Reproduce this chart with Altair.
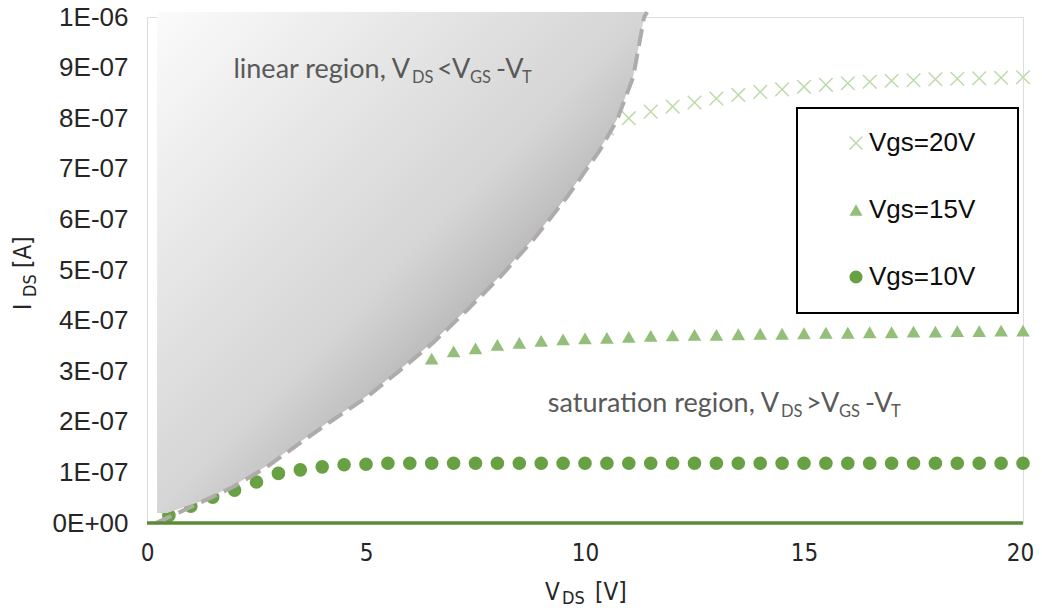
import altair as alt
import pandas as pd

# ---------------- data (currents in units of 1e-7 A) ----------------
series_names = ["Vgs=20V", "Vgs=15V", "Vgs=10V"]

v10 = [0.5, 1, 1.5, 2, 2.5, 3, 3.5, 4, 4.5, 5, 5.5, 6, 6.5, 7, 7.5, 8, 8.5, 9, 9.5, 10,
       10.5, 11, 11.5, 12, 12.5, 13, 13.5, 14, 14.5, 15, 15.5, 16, 16.5, 17, 17.5, 18,
       18.5, 19, 19.5, 20]
i10 = [0.15, 0.33, 0.51, 0.65, 0.81, 0.98, 1.05, 1.11, 1.15, 1.16, 1.18, 1.18, 1.18, 1.18,
       1.18, 1.18, 1.18, 1.18, 1.18, 1.18, 1.18, 1.18, 1.18, 1.18, 1.18, 1.18, 1.18, 1.18,
       1.18, 1.18, 1.18, 1.18, 1.18, 1.18, 1.18, 1.18, 1.18, 1.18, 1.18, 1.18]

v15 = [6.5, 7, 7.5, 8, 8.5, 9, 9.5, 10, 10.5, 11, 11.5, 12, 12.5, 13, 13.5, 14, 14.5, 15,
       15.5, 16, 16.5, 17, 17.5, 18, 18.5, 19, 19.5, 20]
i15 = [3.25, 3.39, 3.45, 3.52, 3.56, 3.60, 3.63, 3.65, 3.66, 3.68, 3.70, 3.71, 3.72, 3.72,
       3.73, 3.74, 3.74, 3.75, 3.76, 3.76, 3.77, 3.77, 3.78, 3.78, 3.79, 3.79, 3.80, 3.80]

v20 = [10.5, 11, 11.5, 12, 12.5, 13, 13.5, 14, 14.5, 15, 15.5, 16, 16.5, 17, 17.5, 18,
       18.5, 19, 19.5, 20]
i20 = [7.80, 8.00, 8.13, 8.23, 8.31, 8.39, 8.46, 8.52, 8.57, 8.62, 8.66, 8.69, 8.72, 8.74,
       8.75, 8.77, 8.78, 8.79, 8.80, 8.81]

# zero-current series along the V axis
v0 = [0, 20]
i0 = [0, 0]

# boundary V_DS = V_GS - V_T (dashed curve)
vb = [0.2, 0.46, 1.21, 1.96, 2.74, 3.49, 4.25, 5.02, 5.78, 6.53, 7.31, 8.06, 8.81, 9.59,
      10.34, 10.73, 11.1, 11.35, 11.42]
ib = [0.0, 0.10, 0.40, 0.71, 1.11, 1.58, 2.04, 2.49, 3.02, 3.56, 4.21, 4.86, 5.59, 6.44,
      7.37, 7.96, 8.81, 10.0, 10.1]

# linear-region shading: left edge and boundary
shade_left = 0.23
shade_v = [0.46, 1.21, 1.96, 2.74, 3.49, 4.25, 5.02, 5.78, 6.53, 7.31, 8.06, 8.81, 9.59,
           10.34, 10.73, 11.1, 11.35, 11.42]
shade_i = [0.2, 0.42, 0.73, 1.13, 1.60, 2.06, 2.51, 3.04, 3.58, 4.23, 4.88, 5.61, 6.46,
           7.39, 7.98, 8.83, 10.0, 10.1]

y_ticks = [0, 1, 2, 3, 4, 5, 6, 7, 8, 9, 10]
x_ticks = [0, 5, 10, 15, 20]

E = 1e-7

# ---------------- tables ----------------
pts = pd.concat([
    pd.DataFrame({"V": v20, "I": [v * E for v in i20], "series": "Vgs=20V"}),
    pd.DataFrame({"V": v15, "I": [v * E for v in i15], "series": "Vgs=15V"}),
    pd.DataFrame({"V": v10, "I": [v * E for v in i10], "series": "Vgs=10V"}),
], ignore_index=True)
zero_df = pd.DataFrame({"V": v0, "I": i0})
bound_df = pd.DataFrame({"V": vb, "I": [v * E for v in ib]})
shade_df = pd.DataFrame({"V": shade_v, "L": shade_left, "I": [v * E for v in shade_i]})

NARROW = "Liberation Sans Narrow, DejaVu Sans Condensed, Liberation Sans, sans-serif"

W, H = 876, 506
xs = alt.Scale(domain=[0, 20], nice=False, zero=False)
ys = alt.Scale(domain=[0, 1e-6], nice=False, zero=False)

x_axis = alt.Axis(values=x_ticks, title=None, labelFont=NARROW,
                  labelFontSize=24, labelColor="#262626", labelPadding=18, format="d",
                  labelFlush=False, grid=False, ticks=False, domain=False,
                  labelOffset={"condition": {"test": "datum.value == 20", "value": -3},
                               "value": 0})
y_axis = alt.Axis(values=[t * E for t in y_ticks], title=None, labelFont="Liberation Sans",
                  labelFontSize=26, labelColor="#262626", labelPadding=19, grid=False,
                  ticks=False, domain=False,
                  labelExpr="datum.value == 0 ? '0E+00' : (datum.value > 9.5e-7 ? '1E-06' : format(datum.value*1e7, '.0f') + 'E-07')")

X_PATH = "M-1,-1L1,1M-1,1L1,-1"
leg = alt.Legend(title=None, orient="none", legendX=696, legendY=113, padding=0,
                 labelFont="Liberation Sans", labelFontSize=26, labelColor="#0d0d0d",
                 rowPadding=41, symbolSize=170, symbolStrokeWidth=1.5, labelOffset=0)

points = alt.Chart(pts).mark_point(size=185, strokeWidth=1.5, opacity=1).encode(
    x=alt.X("V:Q", scale=xs, axis=x_axis),
    y=alt.Y("I:Q", scale=ys, axis=y_axis),
    shape=alt.Shape("series:N", scale=alt.Scale(domain=series_names,
                    range=[X_PATH, "triangle-up", "circle"]), legend=leg),
    fill=alt.Fill("series:N", scale=alt.Scale(domain=series_names,
                  range=["transparent", "#93BF7A", "#68A143"]), legend=leg),
    stroke=alt.Stroke("series:N", scale=alt.Scale(domain=series_names,
                      range=["#BCDBAA", "transparent", "transparent"]), legend=leg),
)

zero_line = alt.Chart(zero_df).mark_line(color="#5A8A3A", strokeWidth=3.5).encode(
    x=alt.X("V:Q", scale=xs), y=alt.Y("I:Q", scale=ys))

grad = alt.Gradient(gradient="linear",
                    stops=[alt.GradientStop(color="#fbfbfb", offset=0),
                           alt.GradientStop(color="#d5d5d5", offset=0.5),
                           alt.GradientStop(color="#c4c4c4", offset=0.58),
                           alt.GradientStop(color="#b2b2b2", offset=0.65),
                           alt.GradientStop(color="#909090", offset=1)],
                    x1=0, y1=0, x2=1, y2=1)
shade = alt.Chart(shade_df).mark_area(orient="horizontal", color=grad, clip=False).encode(
    y=alt.Y("I:Q", scale=ys), x=alt.X("L:Q", scale=xs), x2="V:Q")

boundary = alt.Chart(bound_df).mark_line(color="#AFABAB", strokeWidth=4,
                                         strokeDash=[17, 8], clip=False).encode(
    x=alt.X("V:Q", scale=xs), y=alt.Y("I:Q", scale=ys))

legend_box = alt.Chart(pd.DataFrame({"a": [0]})).mark_rect(
    fill="white", stroke="black", strokeWidth=2).encode(
    x=alt.value(650), x2=alt.value(871), y=alt.value(91), y2=alt.value(296))

# annotation runs: main text (right-aligned at the end of its "V"), then the rest
main_runs = pd.DataFrame({
    "t": ["linear region, V", "saturation region, V"],
    "px": [263, 632],
    "py": [61, 394.5],
})
main_annot = alt.Chart(main_runs).mark_text(font="Lato", fontSize=27, color="#595959",
                                            align="right", baseline="alphabetic").encode(
    x=alt.X("px:Q", scale=None), y=alt.Y("py:Q", scale=None), text="t:N")

rest_runs = pd.DataFrame({
    "t": ["DS", "<", "V", "GS", "-V", "T",
          "DS", ">", "V", "GS", "-V", "T"],
    "px": [265, 290, 305, 323, 349, 375,
           634, 659, 674, 692, 718, 744],
    "py": [66, 61, 61, 66, 61, 66,
           399.5, 394.5, 394.5, 399.5, 394.5, 399.5],
    "fs": [16.5, 27, 27, 16.5, 27, 16.5,
           16.5, 27, 27, 16.5, 27, 16.5],
})
rest_annot = alt.Chart(rest_runs).mark_text(font="Lato", color="#595959", align="left",
                                            baseline="alphabetic").encode(
    x=alt.X("px:Q", scale=None), y=alt.Y("py:Q", scale=None),
    text="t:N", size=alt.Size("fs:Q", scale=None))

xt_pieces = pd.DataFrame({"t": ["V", "DS", "[V]"], "px": [398, 415, 448],
                          "py": [583, 587, 583], "fs": [24, 18, 24]})
xtitle = alt.Chart(xt_pieces).mark_text(font=NARROW, color="#262626",
                                        align="left", baseline="alphabetic").encode(
    x=alt.X("px:Q", scale=None), y=alt.Y("py:Q", scale=None),
    text="t:N", size=alt.Size("fs:Q", scale=None))

yt_pieces = pd.DataFrame({"t": ["I", "DS", "[A]"], "px": [-116, -111, -116],
                          "py": [293, 280, 251], "fs": [24, 18, 24]})
ytitle = alt.Chart(yt_pieces).mark_text(font=NARROW, color="#262626",
                                        align="left", baseline="alphabetic",
                                        angle=270).encode(
    x=alt.X("px:Q", scale=None), y=alt.Y("py:Q", scale=None),
    text="t:N", size=alt.Size("fs:Q", scale=None))

chart = alt.layer(points, shade, boundary, zero_line, main_annot, rest_annot, legend_box,
                  xtitle, ytitle).properties(
    width=W, height=H,
    padding={"left": 139, "top": 9, "right": 11, "bottom": 85},
    autosize=alt.AutoSizeParams(type="none"),
).configure_view(stroke="black", strokeWidth=2, fill="white").configure(background="white")

chart.save("out.html", embed_options={"renderer": "svg", "actions": False})
